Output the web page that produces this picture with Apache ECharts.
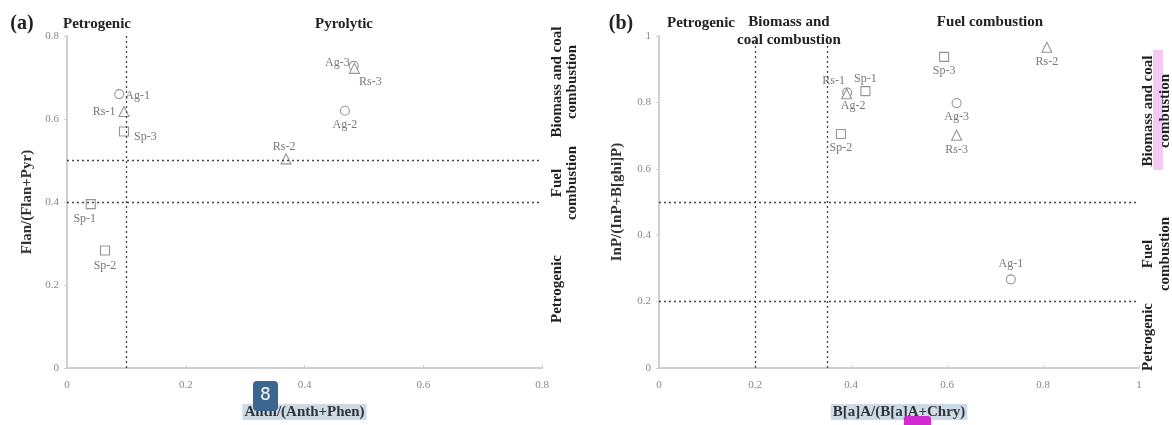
<!DOCTYPE html>
<html>
<head>
<meta charset="utf-8">
<script src="https://cdn.jsdelivr.net/npm/echarts@6/dist/echarts.min.js"></script>
<style>html,body{margin:0;padding:0;background:#fff}#c{width:1172px;height:425px}</style>
</head>
<body>
<div id="c"></div>
<script>
// ---------- data ----------
// Panel (a): Anth/(Anth+Phen) vs Flan/(Flan+Pyr)
const agNamesA = ['Ag-1', 'Ag-2', 'Ag-3'];
const agXA = [0.088, 0.468, 0.483];
const agYA = [0.66, 0.62, 0.728];
const rsNamesA = ['Rs-1', 'Rs-2', 'Rs-3'];
const rsXA = [0.096, 0.369, 0.484];
const rsYA = [0.618, 0.504, 0.722];
const spNamesA = ['Sp-1', 'Sp-2', 'Sp-3'];
const spXA = [0.040, 0.064, 0.096];
const spYA = [0.395, 0.283, 0.570];
// Panel (b): B[a]A/(B[a]A+Chry) vs InP/(InP+B[ghi]P)
const agNamesB = ['Ag-1', 'Ag-2', 'Ag-3'];
const agXB = [0.733, 0.392, 0.620];
const agYB = [0.267, 0.830, 0.798];
const rsNamesB = ['Rs-1', 'Rs-2', 'Rs-3'];
const rsXB = [0.391, 0.808, 0.620];
const rsYB = [0.826, 0.966, 0.701];
const spNamesB = ['Sp-1', 'Sp-2', 'Sp-3'];
const spXB = [0.430, 0.379, 0.594];
const spYB = [0.834, 0.705, 0.937];
// reference (threshold) lines
const refXA = [0.1];
const refYA = [0.4, 0.5];
const refXB = [0.2, 0.35];
const refYB = [0.2, 0.5];
// tick labels
const ticksA = ['0', '0.2', '0.4', '0.6', '0.8'];
const ticksB = ['0', '0.2', '0.4', '0.6', '0.8', '1'];

// ---------- styles ----------
const SERIF = '"Liberation Serif", "DejaVu Serif", serif';
const labelStyle = {
  'a:Ag-1': {position: 'right', offset: [-2, 2]},
  'a:Ag-2': {position: 'bottom', offset: [0, 0]},
  'a:Ag-3': {position: 'left', offset: [4, -3]},
  'a:Rs-1': {position: 'left', offset: [0, 0]},
  'a:Rs-2': {position: 'top', offset: [-2, 3]},
  'a:Rs-3': {position: 'bottom', offset: [16, -1]},
  'a:Sp-1': {position: 'bottom', offset: [-6, 1]},
  'a:Sp-2': {position: 'bottom', offset: [0, 1]},
  'a:Sp-3': {position: 'right', offset: [2, 5]},
  'b:Ag-1': {position: 'top', offset: [0, -1]},
  'b:Ag-2': {position: 'bottom', offset: [6, -1]},
  'b:Ag-3': {position: 'bottom', offset: [0, 0]},
  'b:Rs-1': {position: 'top', offset: [-13, 2]},
  'b:Rs-2': {position: 'bottom', offset: [0, 0]},
  'b:Rs-3': {position: 'bottom', offset: [0, 0]},
  'b:Sp-1': {position: 'top', offset: [0, 2]},
  'b:Sp-2': {position: 'bottom', offset: [0, 0]},
  'b:Sp-3': {position: 'bottom', offset: [0, 0]}
};

function pts(panel, names, xs, ys) {
  return names.map((n, i) => ({
    name: n,
    value: [xs[i], ys[i]],
    label: Object.assign({show: true, formatter: n}, labelStyle[panel + ':' + n])
  }));
}

function refLines(xs, ys) {
  return {
    silent: true,
    symbol: ['none', 'none'],
    label: {show: false},
    lineStyle: {type: [2, 3], color: '#444', width: 1.3},
    emphasis: {disabled: true},
    data: xs.map(v => ({xAxis: v})).concat(ys.map(v => ({yAxis: v})))
  };
}

function scatter(panel, idx, symbol, size, names, xs, ys, withRef) {
  const s = {
    type: 'scatter',
    xAxisIndex: idx,
    yAxisIndex: idx,
    symbol: symbol,
    symbolSize: size,
    itemStyle: {color: '#fff', borderColor: '#7a7a7a', borderWidth: 1.1},
    label: {fontFamily: SERIF, fontSize: 12, color: '#555', distance: 3},
    emphasis: {disabled: true},
    data: pts(panel, names, xs, ys)
  };
  if (withRef) s.markLine = withRef;
  return s;
}

function xAxis(idx, max, ticks, name) {
  return {
    type: 'value', gridIndex: idx, min: 0, max: max, interval: 0.2,
    name: name, nameLocation: 'middle', nameGap: 36,
    nameTextStyle: {fontFamily: SERIF, fontWeight: 'bold', fontSize: 15, color: '#333',
                    backgroundColor: '#cddbe7', padding: [1, 2, 0, 2]},
    axisLine: {show: true, lineStyle: {color: '#cfcfcf', width: 2}},
    axisTick: {show: true, inside: true, length: 3, lineStyle: {color: '#cfcfcf'}},
    axisLabel: {fontFamily: SERIF, fontSize: 11, color: '#888', margin: 12,
                formatter: (v) => ticks[Math.round(v / 0.2)]},
    splitLine: {show: false}
  };
}
function yAxis(idx, max, ticks, name, gap) {
  return {
    type: 'value', gridIndex: idx, min: 0, max: max, interval: 0.2,
    name: name, nameLocation: 'middle', nameGap: gap,
    nameTextStyle: {fontFamily: SERIF, fontWeight: 'bold', fontSize: 15, color: '#333'},
    axisLine: {show: true, lineStyle: {color: '#cfcfcf', width: 2}},
    axisTick: {show: true, length: 3, lineStyle: {color: '#cfcfcf'}},
    axisLabel: {fontFamily: SERIF, fontSize: 11, color: '#888', margin: 8,
                formatter: (v) => ticks[Math.round(v / 0.2)]},
    splitLine: {show: false}
  };
}

function txt(x, y, text, opt) {
  return Object.assign({
    type: 'text', x: x, y: y, z: 50,
    style: Object.assign({text: text, fontFamily: SERIF, fontWeight: 'bold', fontSize: 15,
      fill: '#222', align: 'center', verticalAlign: 'middle', lineHeight: 16}, opt && opt.style)
  }, opt && opt.extra);
}
function vtxt(x, y, text, lh) {
  return txt(x, y, text, {extra: {rotation: Math.PI / 2}, style: {lineHeight: lh || 15}});
}

const option = {
  backgroundColor: '#fff',
  animation: false,
  grid: [
    {left: 67, right: 630, top: 36, bottom: 53},
    {left: 659, right: 33, top: 36, bottom: 53}
  ],
  xAxis: [xAxis(0, 0.8, ticksA, 'Anth/(Anth+Phen)'), xAxis(1, 1, ticksB, 'B[a]A/(B[a]A+Chry)')],
  yAxis: [yAxis(0, 0.8, ticksA, 'Flan/(Flan+Pyr)', 32), yAxis(1, 1, ticksB, 'InP/(InP+B[ghi]P)', 34)],
  series: [
    scatter('a', 0, 'circle', 9, agNamesA, agXA, agYA, refLines(refXA, refYA)),
    scatter('a', 0, 'triangle', 10, rsNamesA, rsXA, rsYA),
    scatter('a', 0, 'rect', 9, spNamesA, spXA, spYA),
    scatter('b', 1, 'circle', 9, agNamesB, agXB, agYB, refLines(refXB, refYB)),
    scatter('b', 1, 'triangle', 10, rsNamesB, rsXB, rsYB),
    scatter('b', 1, 'rect', 9, spNamesB, spXB, spYB)
  ],
  graphic: [
    txt(22, 24, '(a)', {style: {fontSize: 20}}),
    txt(97, 24, 'Petrogenic'),
    txt(344, 24, 'Pyrolytic'),
    txt(621, 24, '(b)', {style: {fontSize: 20}}),
    txt(701, 23, 'Petrogenic'),
    txt(789, 31, 'Biomass and\ncoal combustion', {style: {lineHeight: 18}}),
    txt(990, 22, 'Fuel combustion'),
    // left panel side labels
    vtxt(564.5, 82, 'Biomass and coal\ncombustion'),
    vtxt(564.5, 183, 'Fuel\ncombustion'),
    vtxt(557, 289, 'Petrogenic'),
    // right panel side labels
    {type: 'rect', z: 10, shape: {x: 1153, y: 50, width: 10, height: 120}, style: {fill: '#f6c8f2'}},
    vtxt(1157, 111, 'Biomass and coal\ncombustion', 17),
    vtxt(1156.5, 254, 'Fuel\ncombustion', 17),
    vtxt(1148, 337, 'Petrogenic'),
    // overlay badges
    {type: 'rect', z: 100, shape: {x: 253, y: 381, width: 25, height: 30, r: 4}, style: {fill: '#3b668f'}},
    {type: 'text', z: 101, x: 265.5, y: 396, style: {text: '8', fill: '#fff', fontFamily: 'DejaVu Sans', fontSize: 17, align: 'center', verticalAlign: 'middle'}},
    {type: 'rect', z: 100, shape: {x: 904, y: 416, width: 27, height: 14, r: 3}, style: {fill: '#d22bd2'}}
  ]
};

const chart = echarts.init(document.getElementById('c'), null, {renderer: 'canvas'});
chart.setOption(option);
</script>
</body>
</html>
